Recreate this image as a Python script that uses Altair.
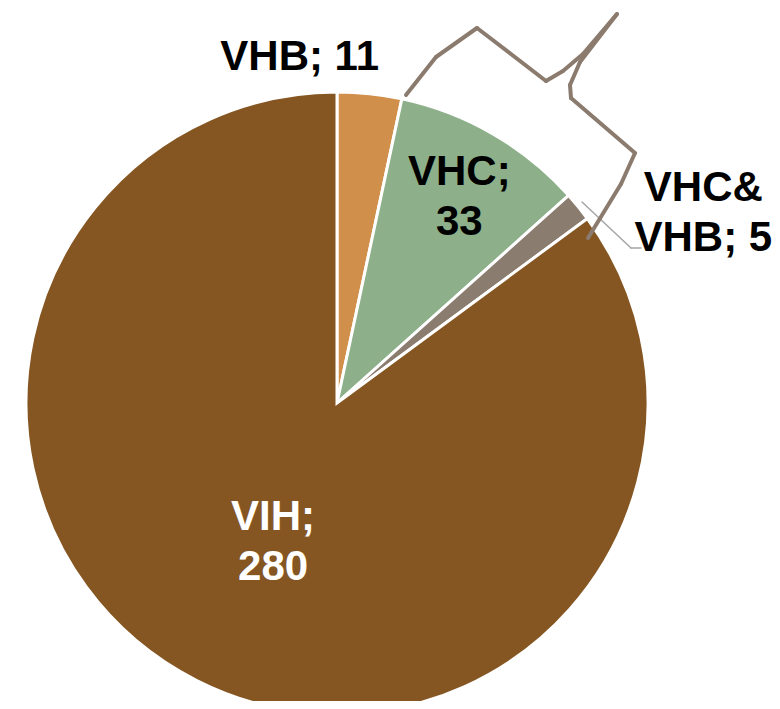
import altair as alt
import pandas as pd

# ---- data ----
categories = ["VHB", "VHC", "VHC&VHB", "VIH"]
values = [11, 33, 5, 280]
display_names = ["VHB", "VHC", "VHC&\nVHB", "VIH"]
separators = [" ", "\n", " ", "\n"]
colors = ["#D08F4A", "#8DB08B", "#8B7C70", "#855622"]
label_colors = ["#000000", "#000000", "#000000", "#FFFFFF"]

labels = [f"{n};{s}{v}" for n, s, v in zip(display_names, separators, values)]
df = pd.DataFrame({
    "category": categories,
    "value": values,
    "order": list(range(len(categories))),
    "label": labels,
    "lcolor": label_colors,
})
total = sum(values)

CX, CY, R = 329, 395, 311
FONT = "Liberation Sans"

base = alt.Chart(df)

pie = base.mark_arc(radius=R, stroke="white", strokeWidth=3).encode(
    theta=alt.Theta("value:Q", stack=True),
    order=alt.Order("order:Q"),
    color=alt.Color("category:N", scale=alt.Scale(domain=categories, range=colors), legend=None),
    x=alt.value(CX),
    y=alt.value(CY),
)

theta_scale = alt.Scale(domain=[0, total], range=[0, 6.283185307179586])

lab_base = base.transform_window(
    cum="sum(value)", sort=[alt.SortField("order")]
).transform_calculate(mid="datum.cum - datum.value / 2")

# per-label placement: (radius, dx, dy)
placement = {
    "VHB": (340, -73, -8),
    "VHC": (240, 2, -23),
    "VHC&VHB": (360, 87, 12),
    "VIH": (155, 6, -24),
}

text_layers = []
for cat in categories:
    rr, ddx, ddy = placement[cat]
    t = lab_base.transform_filter(alt.datum.category == cat).mark_text(
        radius=rr, dx=ddx, dy=ddy, font=FONT, fontSize=42, fontWeight="bold",
        lineBreak="\n", lineHeight=50, align="center", baseline="middle",
    ).encode(
        theta=alt.Theta("mid:Q", scale=theta_scale),
        text="label:N",
        color=alt.Color("lcolor:N", scale=None),
        x=alt.value(CX),
        y=alt.value(CY),
    )
    text_layers.append(t)

dummy = alt.Chart(alt.Data(values=[{"a": 1}]))

def seg(x1, y1, x2, y2, color, width):
    return dummy.mark_rule(color=color, strokeWidth=width, strokeCap="round").encode(
        x=alt.value(x1 - 8), y=alt.value(y1 - 8), x2=alt.value(x2 - 8), y2=alt.value(y2 - 8)
    )

# leader line for VHC&VHB
leader = [
    seg(582, 202, 631, 248, "#A6A6A6", 1.5),
    seg(631, 248, 641, 248, "#A6A6A6", 1.5),
]

# callout outline (decorative shape)
pts = [(406, 95), (436, 57), (477, 28), (546, 81), (563, 71), (583, 54), (617, 14),
       (580, 62), (570, 85), (571, 98), (635, 153), (621, 184), (588, 238)]
callout = [seg(a[0], a[1], b[0], b[1], "#8B7B6E", 4) for a, b in zip(pts[:-1], pts[1:])]

chart = alt.layer(pie, *text_layers, *leader, *callout).resolve_scale(
    theta="independent", color="independent"
).properties(
    width=764, height=693, autosize=alt.AutoSizeParams(type="none"), padding=0
).configure_view(stroke=None)

chart.save("out.html", embed_options={"renderer": "svg", "actions": False})
